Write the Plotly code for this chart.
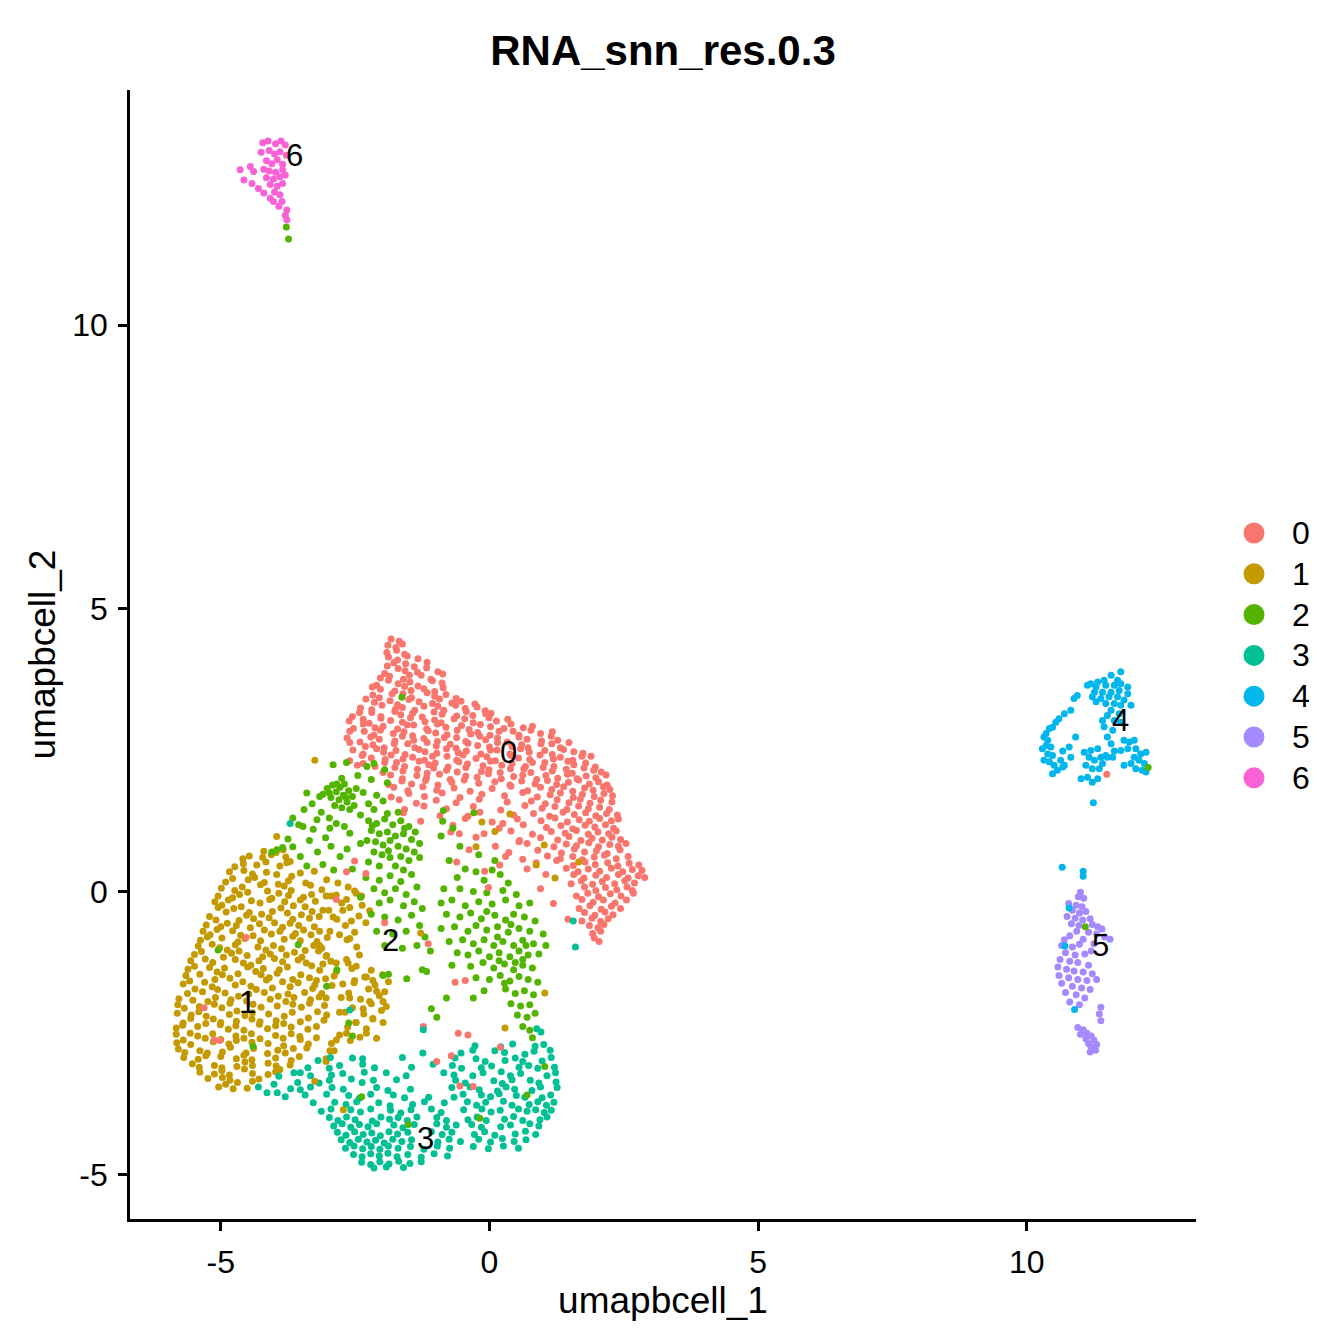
import plotly.graph_objects as go

# ---------------- data ----------------
cluster_names = ["0", "1", "2", "3", "4", "5", "6"]
cluster_colors = ["#F8766D", "#C49A00", "#53B400", "#00C094", "#00B6EB", "#A58AFF", "#FB61D7"]

c0_points = [
(-1.83,4.46),(-1.68,4.42),
(-1.89,4.35),(-1.74,4.31),(-1.62,4.37),
(-1.91,4.22),(-1.73,4.26),(-1.58,4.19),
(-1.88,4.14),(-1.71,4.09),(-1.53,4.16),(-1.33,4.11),
(-1.90,3.98),(-1.78,4.04),(-1.56,4.02),(-1.40,3.97),(-1.16,4.05),
(-1.95,3.85),(-1.70,3.94),(-1.57,3.90),(-1.34,3.87),(-1.17,3.95),(-0.96,3.88),
(-2.03,3.77),(-1.86,3.80),(-1.60,3.75),(-1.49,3.82),(-1.27,3.82),(-1.09,3.75),(-0.87,3.84),
(-2.10,3.64),(-1.88,3.73),(-1.70,3.67),(-1.48,3.70),(-1.33,3.63),(-1.06,3.72),(-0.88,3.68),
(-2.18,3.61),(-2.03,3.57),(-1.76,3.54),(-1.58,3.62),(-1.46,3.55),(-1.22,3.58),(-1.02,3.53),(-0.86,3.60),
(-2.17,3.47),(-2.05,3.42),(-1.81,3.49),(-1.61,3.49),(-1.45,3.42),(-1.16,3.51),(-1.02,3.45),(-0.81,3.48),(-0.62,3.41),
(-2.30,3.40),(-2.14,3.34),(-1.85,3.37),(-1.71,3.30),(-1.50,3.39),(-1.31,3.35),(-1.06,3.32),(-0.93,3.40),(-0.70,3.33),(-0.53,3.36),(-0.27,3.31),
(-2.40,3.24),(-2.19,3.21),(-2.00,3.29),(-1.75,3.22),(-1.62,3.25),(-1.39,3.20),(-1.22,3.27),(-0.96,3.27),(-0.85,3.20),(-0.63,3.29),(-0.45,3.23),(-0.23,3.26),(-0.08,3.19),
(-2.55,3.09),(-2.42,3.16),(-2.19,3.16),(-2.02,3.09),(-1.76,3.18),(-1.65,3.12),(-1.43,3.15),(-1.25,3.08),(-1.03,3.17),(-0.88,3.13),(-0.61,3.10),(-0.43,3.18),(-0.31,3.11),(-0.07,3.14),(0.03,3.15),
(-2.61,3.01),(-2.35,3.04),(-2.24,2.97),(-2.02,3.06),(-1.84,3.02),(-1.62,2.99),(-1.47,3.07),(-1.20,3.00),(-1.02,3.03),(-0.90,2.98),(-0.66,3.05),(-0.46,3.05),(-0.30,2.98),(-0.01,3.07),(0.13,3.01),(0.34,3.04),
(-2.53,2.88),(-2.35,2.96),(-2.13,2.89),(-1.98,2.92),(-1.71,2.87),(-1.53,2.94),(-1.41,2.94),(-1.17,2.87),(-0.97,2.96),(-0.81,2.90),(-0.52,2.93),(-0.38,2.86),(-0.17,2.95),(0.02,2.91),(0.27,2.88),(0.40,2.96),(0.63,2.89),(0.80,2.92),
(-2.60,2.83),(-2.33,2.83),(-2.15,2.76),(-2.03,2.85),(-1.79,2.79),(-1.59,2.82),(-1.43,2.75),(-1.14,2.84),(-1.00,2.80),(-0.79,2.77),(-0.60,2.85),(-0.35,2.78),(-0.22,2.81),(0.01,2.76),(0.18,2.83),(0.44,2.83),(0.55,2.76),(0.77,2.85),(0.95,2.79),(1.17,2.82),
(-2.65,2.71),(-2.41,2.64),(-2.21,2.73),(-2.05,2.69),(-1.76,2.66),(-1.62,2.74),(-1.41,2.67),(-1.22,2.70),(-0.97,2.65),(-0.84,2.72),(-0.61,2.72),(-0.44,2.65),(-0.18,2.74),(-0.07,2.68),(0.15,2.71),(0.33,2.64),(0.55,2.73),(0.70,2.69),(0.97,2.66),(1.15,2.74),(1.27,2.67),
(-2.60,2.63),(-2.31,2.56),(-2.17,2.59),(-1.96,2.54),(-1.77,2.61),(-1.52,2.61),(-1.39,2.54),(-1.16,2.63),(-0.99,2.57),(-0.73,2.60),(-0.62,2.53),(-0.40,2.62),(-0.22,2.58),(0.00,2.55),(0.15,2.63),(0.42,2.56),(0.60,2.59),(0.72,2.54),(0.96,2.61),(1.16,2.61),(1.32,2.54),(1.48,2.63),
(-2.54,2.50),(-2.35,2.43),(-2.10,2.52),(-1.97,2.46),(-1.74,2.49),(-1.57,2.42),(-1.31,2.51),(-1.20,2.47),(-0.98,2.44),(-0.80,2.52),(-0.58,2.45),(-0.43,2.48),(-0.16,2.43),(0.02,2.50),(0.14,2.50),(0.38,2.43),(0.58,2.52),(0.74,2.46),(1.03,2.49),(1.17,2.42),(1.38,2.51),(1.57,2.47),(1.74,2.44),
(-2.60,2.31),(-2.37,2.40),(-2.20,2.36),(-1.94,2.33),(-1.83,2.41),(-1.61,2.34),(-1.43,2.37),(-1.21,2.32),(-1.06,2.39),(-0.79,2.39),(-0.61,2.32),(-0.49,2.41),(-0.25,2.35),(-0.05,2.38),(0.11,2.31),(0.40,2.40),(0.54,2.36),(0.75,2.33),(0.94,2.41),(1.19,2.34),(1.32,2.37),(1.55,2.32),(1.72,2.39),(1.89,2.39),
(-2.46,2.23),(-2.35,2.26),(-2.13,2.21),(-1.95,2.28),(-1.73,2.28),(-1.58,2.21),(-1.31,2.30),(-1.13,2.24),(-1.01,2.27),(-0.77,2.20),(-0.57,2.29),(-0.41,2.25),(-0.12,2.22),(0.02,2.30),(0.23,2.23),(0.42,2.26),(0.67,2.21),(0.80,2.28),(1.03,2.28),(1.20,2.21),(1.46,2.30),(1.57,2.24),(1.79,2.27),(1.97,2.20),
(-1.98,2.10),(-1.76,2.19),(-1.61,2.13),(-1.34,2.16),(-1.16,2.09),(-1.04,2.18),(-0.80,2.14),(-0.60,2.11),(-0.44,2.19),(-0.15,2.12),(-0.01,2.15),(0.20,2.10),(0.39,2.17),(0.64,2.17),(0.77,2.10),(1.00,2.19),(1.17,2.13),(1.43,2.16),(1.54,2.09),(1.76,2.18),(1.94,2.14),(2.08,2.11),
(-1.84,2.06),(-1.62,1.99),(-1.35,2.05),(-1.17,2.01),(-0.93,2.07),(-0.73,1.98),(-0.44,2.04),(-0.23,2.02),(-0.02,2.08),(0.22,1.99),(0.45,2.03),(0.62,2.06),(0.88,1.98),(1.05,2.05),(1.27,2.00),(1.45,2.07),(1.63,1.99),(1.80,2.04),(1.98,2.01),(2.17,2.06),
(-1.88,1.89),(-1.63,1.95),(-1.45,1.90),(-1.19,1.96),(-0.96,1.88),(-0.70,1.93),(-0.47,1.97),(-0.20,1.91),(0.10,1.94),(0.38,1.88),(0.60,1.95),(0.85,1.90),(1.08,1.96),(1.25,1.89),(1.47,1.93),(1.66,1.97),(1.86,1.90),(2.03,1.94),(2.19,1.88),
(-1.78,1.84),(-1.52,1.78),(-1.24,1.85),(-0.98,1.79),(-0.66,1.83),(-0.36,1.77),(0.05,1.82),(0.40,1.86),(0.71,1.78),(0.95,1.84),(1.16,1.80),(1.38,1.85),(1.55,1.77),(1.77,1.83),(1.93,1.79),(2.12,1.85),(2.24,1.80),
(-1.83,1.67),(-1.50,1.73),(-1.21,1.68),(-0.88,1.74),(-0.55,1.66),(-0.14,1.72),(0.28,1.69),(0.62,1.75),(0.89,1.67),(1.13,1.71),(1.32,1.74),(1.56,1.66),(1.73,1.72),(1.95,1.68),(2.13,1.73),(2.29,1.69),
(-1.68,1.62),(-1.36,1.56),(-0.99,1.61),(-0.62,1.57),(-0.19,1.63),(0.33,1.58),(0.78,1.60),(1.04,1.55),(1.26,1.62),(1.48,1.57),(1.69,1.63),(1.87,1.56),(2.07,1.61),(2.28,1.58),
(-1.58,1.45),(-1.22,1.51),(-0.80,1.46),(-0.30,1.50),(0.21,1.44),(0.66,1.52),(0.98,1.47),(1.22,1.50),(1.44,1.45),(1.66,1.51),(1.84,1.46),(2.05,1.49),(2.23,1.45),
(-1.60,1.39),(-0.92,1.34),(-0.18,1.40),(0.45,1.35),(0.82,1.38),(1.12,1.33),(1.37,1.40),(1.58,1.36),(1.79,1.39),(1.98,1.34),(2.18,1.38),(2.38,1.35),
(-1.28,1.24),(-0.45,1.29),(0.05,1.23),(0.52,1.28),(0.96,1.25),(1.22,1.30),(1.45,1.23),(1.67,1.27),(1.86,1.24),(2.05,1.29),(2.27,1.25),(2.40,1.28),
(-0.68,1.17),(0.18,1.12),(0.63,1.18),(1.06,1.13),(1.33,1.16),(1.55,1.11),(1.78,1.17),(1.96,1.14),(2.16,1.18),(2.31,1.12),
(-0.56,1.02),(0.40,1.07),(0.80,1.01),(1.15,1.06),(1.41,1.03),(1.62,1.08),(1.84,1.01),(2.02,1.05),(2.22,1.02),(2.36,1.07),
(-0.25,0.96),(0.56,0.90),(0.95,0.95),(1.27,0.91),(1.48,0.97),(1.70,0.90),(1.91,0.94),(2.10,0.91),(2.28,0.96),(2.44,0.92),
(0.11,0.80),(0.70,0.85),(1.20,0.79),(1.43,0.84),(1.62,0.81),(1.85,0.86),(2.03,0.79),(2.24,0.83),(2.40,0.80),(2.54,0.85),
(-0.38,0.74),(0.36,0.69),(0.90,0.73),(1.34,0.68),(1.58,0.75),(1.77,0.70),(1.99,0.72),(2.19,0.67),(2.43,0.74),
(0.62,0.57),(1.08,0.63),(1.32,0.58),(1.55,0.62),(1.73,0.56),(1.95,0.61),(2.14,0.64),(2.36,0.58),(2.58,0.62),
(-0.61,0.52),(0.19,0.47),(0.87,0.51),(1.56,0.46),(1.78,0.52),(1.97,0.48),(2.20,0.51),(2.39,0.45),(2.60,0.50),(2.78,0.47),
(-0.09,0.36),(1.43,0.41),(1.65,0.35),(1.84,0.40),(2.05,0.36),(2.27,0.41),(2.48,0.35),(2.66,0.39),(2.84,0.37),
(1.57,0.30),(1.76,0.24),(1.98,0.29),(2.18,0.25),(2.40,0.30),(2.58,0.24),(2.77,0.28),(2.89,0.25),
(1.52,0.14),(1.71,0.19),(1.92,0.13),(2.10,0.18),(2.33,0.14),(2.52,0.19),(2.70,0.15),
(1.77,0.08),(1.98,0.02),(2.16,0.07),(2.37,0.03),(2.56,0.08),(2.66,0.02),
(1.62,-0.08),(1.83,-0.03),(2.03,-0.09),(2.25,-0.04),(2.45,-0.08),(2.68,-0.03),
(1.72,-0.14),(1.93,-0.19),(2.12,-0.15),(2.34,-0.20),(2.55,-0.15),
(1.67,-0.30),(1.87,-0.25),(2.08,-0.31),(2.27,-0.26),(2.44,-0.30),
(1.77,-0.37),(1.96,-0.42),(2.15,-0.36),(2.30,-0.41),
(1.72,-0.52),(1.91,-0.47),(2.07,-0.53),(2.21,-0.48),
(1.86,-0.60),(2.02,-0.64),(2.13,-0.58),(1.92,-0.74),(2.07,-0.70),(1.95,-0.82),(2.04,-0.88),
(1.19,-0.21),(1.46,-0.49),
(-0.40,1.33),(0.25,1.20),(-0.10,1.02),(0.55,0.88),(0.30,0.62),(0.70,0.40),(1.05,0.30),(0.95,0.05),(1.25,0.55),(-0.72,1.05),
]

c1_points = [
(-4.20,0.71),(-3.97,0.69),(-3.84,0.74),
(-4.59,0.58),(-4.47,0.63),(-4.22,0.60),(-4.06,0.65),(-3.79,0.61),(-3.71,0.53),
(-4.74,0.44),(-4.58,0.49),(-4.33,0.47),(-4.16,0.52),(-3.90,0.45),(-3.77,0.51),
(-4.84,0.35),(-4.57,0.37),(-4.41,0.31),(-4.15,0.34),(-3.96,0.30),(-3.68,0.27),(-3.52,0.33),(-3.26,0.36),
(-4.91,0.17),(-4.78,0.23),(-4.49,0.21),(-4.37,0.25),(-4.19,0.16),(-3.93,0.13),(-3.74,0.19),(-3.42,0.15),(-3.03,0.21),(-2.82,0.15),
(-4.99,0.06),(-4.74,0.02),(-4.60,0.08),(-4.26,0.12),(-4.13,0.01),(-3.82,0.10),(-3.69,0.02),(-3.33,0.11),(-3.12,0.03),(-2.63,0.08),
(-5.05,-0.08),(-4.78,-0.11),(-4.65,-0.05),(-4.50,-0.01),(-4.05,-0.12),(-3.92,-0.03),(-3.74,-0.07),(-3.46,-0.10),(-3.31,-0.05),(-2.95,-0.08),(-2.48,-0.03),
(-5.11,-0.18),(-4.98,-0.24),(-4.86,-0.15),(-4.43,-0.16),(-4.27,-0.20),(-4.09,-0.14),(-3.81,-0.18),(-3.65,-0.25),(-3.52,-0.15),(-3.24,-0.17),(-2.75,-0.20),(-2.37,-0.24),
(-5.05,-0.28),(-4.90,-0.36),(-4.76,-0.30),(-4.62,-0.27),(-4.47,-0.37),(-4.04,-0.35),(-3.88,-0.29),(-3.76,-0.38),(-3.43,-0.27),(-3.30,-0.35),(-2.99,-0.33),(-2.60,-0.28),(-2.23,-0.34),
(-5.21,-0.44),(-5.09,-0.50),(-4.66,-0.51),(-4.52,-0.42),(-4.39,-0.48),(-4.24,-0.40),(-4.10,-0.46),(-3.66,-0.49),(-3.50,-0.41),(-3.35,-0.47),(-3.17,-0.44),(-2.84,-0.49),(-2.43,-0.43),
(-5.27,-0.59),(-5.00,-0.62),(-4.88,-0.56),(-4.71,-0.60),(-4.45,-0.64),(-4.28,-0.57),(-4.00,-0.55),(-3.85,-0.63),(-3.71,-0.56),(-3.55,-0.60),(-3.26,-0.62),(-2.68,-0.60),(-2.30,-0.55),
(-5.33,-0.70),(-5.20,-0.76),(-5.07,-0.67),(-4.78,-0.69),(-4.63,-0.77),(-4.19,-0.68),(-4.06,-0.75),(-3.90,-0.70),(-3.61,-0.74),(-3.46,-0.68),(-3.32,-0.76),(-3.16,-0.70),(-2.51,-0.72),
(-5.38,-0.86),(-5.25,-0.80),(-4.98,-0.82),(-4.68,-0.89),(-4.55,-0.83),(-4.40,-0.78),(-4.26,-0.87),(-3.82,-0.84),(-3.66,-0.79),(-3.52,-0.87),(-3.21,-0.88),(-3.02,-0.81),(-2.65,-0.85),
(-5.42,-0.96),(-5.16,-0.93),(-5.02,-0.99),(-4.88,-1.03),(-4.73,-0.94),(-4.31,-0.98),(-4.16,-1.03),(-4.02,-0.95),(-3.87,-1.01),(-3.43,-1.04),(-3.27,-0.95),(-3.12,-1.00),(-2.47,-0.98),
(-5.49,-1.11),(-5.36,-1.06),(-4.95,-1.16),(-4.80,-1.09),(-4.66,-1.05),(-4.51,-1.13),(-4.22,-1.15),(-4.08,-1.10),(-3.78,-1.12),(-3.63,-1.07),(-3.49,-1.16),(-3.18,-1.05),(-3.03,-1.13),(-2.42,-1.12),
(-5.56,-1.22),(-5.29,-1.19),(-5.15,-1.25),(-4.73,-1.20),(-4.58,-1.26),(-4.44,-1.30),(-4.29,-1.22),(-4.00,-1.18),(-3.85,-1.24),(-3.56,-1.21),(-3.41,-1.26),(-3.10,-1.28),(-2.95,-1.23),(-2.63,-1.26),
(-5.61,-1.37),(-5.49,-1.32),(-5.21,-1.34),(-5.07,-1.42),(-4.93,-1.35),(-4.50,-1.33),(-4.35,-1.41),(-4.21,-1.36),(-3.91,-1.38),(-3.76,-1.33),(-3.31,-1.31),(-3.16,-1.39),(-2.85,-1.41),(-2.56,-1.36),(-2.20,-1.39),
(-5.65,-1.48),(-5.39,-1.46),(-5.11,-1.55),(-4.97,-1.47),(-4.83,-1.53),(-4.68,-1.45),(-4.25,-1.47),(-4.10,-1.52),(-3.95,-1.44),(-3.66,-1.55),(-3.51,-1.47),(-3.35,-1.52),(-3.05,-1.54),(-2.89,-1.49),(-2.32,-1.51),(-1.99,-1.47),
(-5.70,-1.63),(-5.58,-1.58),(-5.30,-1.60),(-5.16,-1.68),(-4.73,-1.65),(-4.59,-1.59),(-4.44,-1.67),(-4.15,-1.56),(-3.85,-1.59),(-3.71,-1.68),(-3.56,-1.61),(-3.25,-1.65),(-2.93,-1.66),(-2.52,-1.61),(-2.13,-1.65),(-1.88,-1.59),
(-5.62,-1.80),(-5.48,-1.72),(-5.34,-1.77),(-5.06,-1.73),(-4.92,-1.79),(-4.48,-1.81),(-4.34,-1.73),(-4.19,-1.78),(-4.04,-1.70),(-3.75,-1.81),(-3.44,-1.78),(-3.29,-1.71),(-3.12,-1.80),(-2.62,-1.79),(-2.25,-1.72),(-1.95,-1.77),
(-5.78,-1.89),(-5.52,-1.92),(-5.24,-1.94),(-5.10,-1.87),(-4.81,-1.91),(-4.67,-1.85),(-4.52,-1.93),(-4.08,-1.90),(-3.93,-1.85),(-3.79,-1.94),(-3.64,-1.87),(-3.33,-1.91),(-3.17,-1.86),(-2.76,-1.87),(-2.40,-1.90),(-2.05,-1.84),
(-5.80,-2.00),(-5.68,-2.06),(-5.40,-2.03),(-5.12,-1.99),(-4.98,-2.05),(-4.83,-1.97),(-4.40,-1.99),(-4.25,-2.04),(-3.95,-2.02),(-3.66,-1.99),(-3.50,-2.04),(-3.35,-1.97),(-3.07,-2.01),(-2.55,-2.05),(-2.20,-1.98),(-1.92,-2.03),
(-5.81,-2.15),(-5.55,-2.18),(-5.41,-2.12),(-5.27,-2.20),(-4.84,-2.17),(-4.70,-2.11),(-4.55,-2.19),(-4.41,-2.14),(-4.11,-2.16),(-3.82,-2.20),(-3.67,-2.13),(-3.20,-2.12),(-3.03,-2.18),(-2.69,-2.13),(-2.34,-2.16),(-2.01,-2.10),
(-5.70,-2.32),(-5.56,-2.24),(-5.28,-2.33),(-5.14,-2.25),(-5.00,-2.31),(-4.71,-2.29),(-4.42,-2.25),(-4.27,-2.30),(-3.97,-2.28),(-3.83,-2.33),(-3.52,-2.30),(-3.37,-2.23),(-3.08,-2.27),(-2.49,-2.31),(-2.17,-2.24),
(-5.83,-2.41),(-5.71,-2.36),(-5.43,-2.38),(-5.01,-2.35),(-4.86,-2.43),(-4.72,-2.37),(-4.57,-2.45),(-4.28,-2.34),(-4.13,-2.42),(-3.98,-2.37),(-3.69,-2.39),(-3.38,-2.43),(-3.22,-2.38),(-2.64,-2.39),(-2.29,-2.42),
(-5.83,-2.52),(-5.57,-2.50),(-5.43,-2.55),(-5.29,-2.59),(-5.15,-2.51),(-4.72,-2.55),(-4.57,-2.59),(-4.43,-2.51),(-3.98,-2.54),(-3.84,-2.59),(-3.69,-2.51),(-3.53,-2.56),(-3.22,-2.58),(-2.79,-2.53),(-2.41,-2.57),
(-5.82,-2.67),(-5.70,-2.62),(-5.56,-2.70),(-5.14,-2.65),(-5.00,-2.61),(-4.85,-2.69),(-4.71,-2.63),(-4.42,-2.66),(-4.27,-2.60),(-4.12,-2.68),(-3.83,-2.72),(-3.52,-2.61),(-3.37,-2.69),(-2.94,-2.68),(-2.59,-2.63),
(-5.79,-2.78),(-5.67,-2.84),(-5.39,-2.81),(-5.25,-2.85),(-4.97,-2.83),(-4.82,-2.75),(-4.53,-2.85),(-4.39,-2.77),(-3.94,-2.80),(-3.80,-2.85),(-3.65,-2.77),(-3.40,-2.76),(-2.89,-2.81),
(-5.69,-2.93),(-5.42,-2.96),(-5.28,-2.90),(-5.00,-2.91),(-4.71,-2.95),(-4.57,-2.89),(-4.42,-2.97),(-4.13,-2.86),(-3.98,-2.94),(-3.69,-2.98),(-3.54,-2.91),(-3.04,-2.95),
(-5.53,-3.04),(-5.40,-3.10),(-5.12,-3.07),(-4.98,-3.11),(-4.70,-3.09),(-4.55,-3.01),(-4.41,-3.07),(-4.12,-3.03),(-3.97,-3.08),(-3.71,-3.06),
(-5.39,-3.19),(-5.12,-3.22),(-4.98,-3.16),(-4.84,-3.24),(-4.56,-3.13),(-4.41,-3.21),(-4.12,-3.23),(-3.98,-3.18),(-3.90,-3.14),
(-5.24,-3.30),(-4.97,-3.28),(-4.83,-3.33),(-4.69,-3.37),(-4.41,-3.35),(-4.29,-3.31),
(-5.04,-3.45),(-4.91,-3.40),(-4.77,-3.48),(-4.51,-3.47),
# looser cells between cluster 1 and cluster 2
(-3.04,-0.08),(-2.85,-0.06),(-2.66,-0.14),(-2.51,0.01),(-2.38,-0.08),(-3.10,-0.33),(-2.91,-0.45),(-2.73,-0.33),
(-2.57,-0.52),(-2.97,-0.70),(-2.79,-0.76),(-2.60,-0.83),(-3.16,-0.95),(-3.04,-1.14),(-2.85,-1.26),(-2.66,-1.20),
(-2.48,-1.32),(-2.29,-1.51),(-2.17,-1.57),(-2.10,-1.76),(-1.98,-1.94),(-2.23,-1.94),(-2.35,-2.07),(-2.17,-2.25),
(-1.98,-2.31),(-2.48,-2.31),(-2.66,-2.50),(-2.85,-2.62),(-2.97,-2.81),(-3.04,-3.00),(-2.79,-2.13),(-2.60,-1.88),
(-3.04,-1.88),(-3.22,-1.57),(-2.73,-1.63),(-2.51,-1.57),(-2.29,-2.50),(-2.10,-2.59),
]

c2_points = [
(-2.91,2.24),(-2.66,2.28),(-2.28,2.21),(-2.15,2.26),(-1.95,2.15),(-2.75,2.00),(-2.45,2.05),(-2.20,1.98),(-1.90,1.92),
(-3.40,1.74),(-3.16,1.68),(-3.45,1.45),(-3.66,1.30),(-3.55,1.18),(-3.47,1.15),(-3.21,1.27),(-3.75,0.93),(-3.96,0.74),
(-4.05,0.70),(-3.85,0.78),(-3.66,0.79),(-3.28,1.10),(-2.97,1.12),(-2.85,1.20),(-2.70,1.15),(-2.60,1.03),(-3.05,0.95),
(-3.35,0.90),(-3.52,0.62),(-3.20,0.70),(-2.95,0.80),(-2.78,0.62),(-3.40,0.45),(-3.10,0.48),(-2.90,0.38),(-2.65,0.75),
(-2.40,0.85),(-2.55,0.40),(-3.13,1.40),(-2.98,1.30),(-3.30,1.55),
(-3.02,1.82),(-2.92,1.88),(-2.85,1.76),(-2.78,1.84),(-2.70,1.90),(-2.95,1.66),(-2.80,1.62),(-2.72,1.70),(-2.62,1.78),
(-2.55,1.68),(-2.65,1.58),(-2.52,1.52),(-2.88,1.52),(-2.75,1.48),(-2.60,1.45),(-2.48,1.82),(-3.10,1.72),(-2.98,1.74),(-2.84,1.90),(-2.67,1.66),
(-2.35,1.75),(-2.10,1.70),(-2.25,1.55),(-1.98,1.60),(-2.40,1.35),(-2.15,1.45),
(-2.25,1.25),(-2.10,1.20),(-1.95,1.28),(-1.80,1.18),(-1.65,1.25),(-1.50,1.15),(-1.38,1.05),(-2.20,1.08),(-2.05,1.02),
(-1.90,1.05),(-1.75,0.98),(-1.60,1.02),(-1.45,0.92),(-1.30,0.85),(-2.28,0.90),(-2.12,0.88),(-1.98,0.82),(-1.85,0.90),
(-1.70,0.80),(-1.55,0.75),(-1.40,0.70),(-2.15,0.70),(-2.00,0.65),(-1.85,0.60),(-1.65,0.62),(-1.50,0.55),(-1.30,0.60),
(-2.25,0.52),(-2.05,0.45),(-1.75,0.45),(-1.60,0.38),(-1.90,1.38),(-1.70,1.40),(-1.58,1.12),(-1.88,0.72),(-2.18,1.16),
(-2.30,0.25),(-2.05,0.20),(-1.85,0.28),(-1.65,0.18),(-1.45,0.30),(-2.15,0.05),(-1.95,-0.02),(-1.75,0.05),(-1.55,-0.05),
(-1.35,0.08),(-2.40,-0.10),(-2.05,-0.20),(-1.85,-0.15),(-1.60,-0.25),(-1.40,-0.18),(-1.25,-0.30),(-2.20,-0.40),
(-1.95,-0.45),(-1.70,-0.50),(-1.45,-0.42),(-1.30,-0.60),(-2.10,-0.70),(-1.80,-0.75),(-1.55,-0.70),(-1.20,-0.80),
(-1.95,-0.95),(-1.62,-1.00),(-1.35,-0.95),(-1.10,-1.05),
(-1.98,-1.48),(-1.88,-1.46),(-1.54,-1.54),(-1.25,-1.38),(-1.17,-1.41),(-0.80,-1.88),(-1.08,-2.07),(-0.98,-2.22),
(-0.86,1.43),(-0.87,1.24),(-0.29,1.39),(-0.68,1.12),(-0.90,0.98),(-0.55,0.80),(-0.20,0.65),(-0.75,0.55),(0.10,0.55),
(-0.45,0.40),(-0.25,0.35),(0.05,0.38),(0.20,0.30),(-0.60,0.25),(-0.10,0.20),(0.35,0.15),
(-0.85,0.05),(-0.55,0.05),(-0.30,0.00),(-0.05,-0.02),(0.25,0.02),(0.50,-0.05),
(-0.90,-0.20),(-0.70,-0.15),(-0.45,-0.25),(-0.20,-0.18),(0.05,-0.22),(0.30,-0.15),(0.55,-0.25),(0.75,-0.20),
(-0.80,-0.40),(-0.55,-0.45),(-0.35,-0.38),(-0.15,-0.48),(0.10,-0.42),(0.30,-0.50),(0.45,-0.40),(0.65,-0.45),(0.85,-0.52),
(-0.90,-0.65),(-0.65,-0.62),(-0.40,-0.70),(-0.25,-0.60),(-0.05,-0.68),(0.15,-0.62),(0.35,-0.72),(0.55,-0.65),(0.75,-0.70),(1.00,-0.75),
(-0.75,-0.88),(-0.50,-0.85),(-0.30,-0.92),(-0.10,-0.85),(0.08,-0.95),(0.25,-0.88),(0.45,-0.95),(0.62,-0.86),(0.82,-0.92),(1.05,-0.95),
(-0.60,-1.08),(-0.40,-1.12),(-0.20,-1.05),(0.00,-1.15),(0.18,-1.08),(0.38,-1.15),(0.55,-1.05),(0.72,-1.12),(0.92,-1.10),
(-0.70,-1.30),(-0.35,-1.32),(-0.12,-1.25),(0.08,-1.35),(0.28,-1.28),(0.45,-1.38),(0.62,-1.30),(0.80,-1.35),
(-0.25,-1.52),(0.00,-1.55),(0.20,-1.48),(0.38,-1.58),(0.55,-1.50),(0.72,-1.55),(0.90,-1.60),
(-0.10,-1.75),(0.30,-1.72),(0.48,-1.80),(0.65,-1.75),(0.82,-1.82),(-0.30,-1.88),
(0.40,-1.98),(0.58,-2.02),(0.75,-2.00),(0.85,-2.15),(0.52,-2.18),(0.70,-2.22),(0.62,-2.38),(0.75,-2.45),(0.80,-2.58),
(0.15,-0.80),(0.40,-0.58),(0.62,-1.20),(0.28,-1.62),(-0.05,-0.35),(0.68,-0.95),(0.48,-1.25),(0.18,-1.22),
]

c3_points = [
(-4.14,-3.55),(-3.95,-3.55),(-3.80,-3.62),(-4.01,-3.40),(-3.92,-3.26),(-3.64,-3.20),(-3.70,-3.48),(-4.30,-3.45),
(0.88,-2.42),(0.96,-2.48),
(-0.27,-2.72),(0.21,-2.74),(0.43,-2.69),(0.85,-2.73),(1.01,-2.70),
(-0.53,-2.85),(-0.31,-2.80),(0.10,-2.81),(0.28,-2.84),(0.66,-2.87),(0.83,-2.82),(1.13,-2.80),
(-2.36,-2.95),(-1.62,-2.93),(-1.24,-2.85),
(-3.19,-2.98),(-2.96,-2.93),(-2.55,-2.94),
(-0.64,-2.94),(-0.25,-2.95),(-0.08,-3.00),(0.29,-2.98),(0.48,-2.94),(0.62,-3.00),(0.98,-2.99),(1.15,-2.93),
(-3.38,-3.11),(-2.98,-3.12),(-2.79,-3.07),(-2.36,-3.05),(-2.14,-3.11),(-1.45,-3.10),(-1.05,-3.05),
(-0.69,-3.07),(-0.52,-3.12),(-0.15,-3.11),(0.04,-3.08),(0.55,-3.10),(0.73,-3.07),(0.90,-3.12),(1.21,-3.10),
(-3.52,-3.20),(-3.33,-3.25),(-2.94,-3.24),(-2.73,-3.21),(-2.33,-3.19),(-1.92,-3.20),(-1.55,-3.25),(-0.85,-3.20),
(-0.66,-3.24),(-0.31,-3.25),(-0.12,-3.20),(0.22,-3.18),(0.39,-3.25),(0.58,-3.21),(1.07,-3.25),(1.23,-3.20),
(-3.57,-3.37),(-3.17,-3.38),(-2.98,-3.33),(-2.57,-3.31),(-2.37,-3.37),(-2.16,-3.33),(-1.73,-3.32),
(-0.63,-3.33),(-0.45,-3.38),(0.08,-3.34),(0.24,-3.39),(0.42,-3.32),(0.76,-3.33),(0.92,-3.38),(1.24,-3.36),
(-3.52,-3.50),(-3.33,-3.45),(-2.93,-3.46),(-2.72,-3.49),(-2.10,-3.46),(-1.89,-3.51),(-1.47,-3.49),
(-0.70,-3.46),(-0.36,-3.45),(-0.19,-3.50),(0.15,-3.52),(0.31,-3.45),(0.47,-3.49),(0.79,-3.51),(0.95,-3.45),(1.26,-3.46),
(-3.43,-3.59),(-3.03,-3.58),(-2.62,-3.60),(-2.42,-3.65),(-2.21,-3.58),(-1.79,-3.59),(-1.58,-3.64),(-1.13,-3.63),
(-0.66,-3.63),(-0.49,-3.58),(-0.15,-3.59),(0.02,-3.62),(0.18,-3.57),(0.50,-3.60),(0.66,-3.63),(0.98,-3.64),(1.14,-3.59),
(-3.28,-3.73),(-2.88,-3.72),(-2.67,-3.76),(-2.47,-3.71),(-2.06,-3.73),(-1.85,-3.78),(-1.43,-3.76),(-1.21,-3.71),(-0.84,-3.73),
(-0.41,-3.71),(-0.24,-3.77),(-0.07,-3.72),(0.26,-3.70),(0.42,-3.77),(0.74,-3.76),(0.90,-3.71),(1.06,-3.77),(1.20,-3.72),
(-3.13,-3.88),(-2.95,-3.84),(-2.58,-3.85),(-2.40,-3.89),(-2.21,-3.84),(-1.84,-3.86),(-1.65,-3.91),(-1.46,-3.85),(-1.08,-3.84),(-0.90,-3.90),
(-0.48,-3.85),(-0.14,-3.84),(0.03,-3.89),(0.20,-3.86),(0.54,-3.84),(0.70,-3.88),(0.86,-3.85),(1.02,-3.90),(1.15,-3.86),
(-2.98,-3.99),(-2.82,-4.04),(-2.66,-3.98),(-2.50,-4.03),(-2.18,-4.05),(-2.02,-3.98),(-1.86,-4.02),(-1.70,-3.99),(-1.53,-4.04),(-1.35,-3.98),(-0.98,-3.99),(-0.80,-4.04),
(-0.40,-4.03),(-0.23,-3.98),(-0.06,-4.04),(0.28,-4.02),(0.45,-3.97),(0.62,-4.04),(0.94,-4.03),(1.07,-3.98),
(-2.90,-4.14),(-2.74,-4.10),(-2.58,-4.16),(-2.42,-4.11),(-2.26,-4.15),(-2.10,-4.10),(-1.78,-4.12),(-1.61,-4.17),(-1.40,-4.11),(-0.98,-4.10),(-0.80,-4.16),(-0.62,-4.12),
(-0.33,-4.11),(-0.15,-4.16),(0.21,-4.15),(0.39,-4.12),(0.75,-4.10),(0.92,-4.14),
(-2.83,-4.25),(-2.67,-4.30),(-2.51,-4.24),(-2.35,-4.29),(-2.19,-4.26),(-2.03,-4.31),(-1.87,-4.24),(-1.71,-4.28),(-1.52,-4.25),(-1.08,-4.24),(-0.88,-4.29),(-0.70,-4.25),
(-0.28,-4.29),(-0.09,-4.24),(0.10,-4.30),(0.48,-4.28),(0.67,-4.23),(0.86,-4.29),
(-2.76,-4.38),(-2.60,-4.43),(-2.44,-4.37),(-2.28,-4.42),(-2.12,-4.39),(-1.96,-4.44),(-1.80,-4.37),(-1.63,-4.41),(-1.45,-4.38),(-0.96,-4.42),(-0.75,-4.37),(-0.54,-4.41),
(-0.20,-4.37),(0.02,-4.42),(0.24,-4.36),(0.46,-4.41),(0.68,-4.38),
(-2.68,-4.53),(-2.52,-4.49),(-2.36,-4.54),(-2.20,-4.50),(-2.04,-4.55),(-1.88,-4.49),(-1.70,-4.53),(-1.47,-4.50),(-1.22,-4.55),(-0.97,-4.49),(-0.74,-4.53),
(-0.30,-4.50),(-0.02,-4.54),(0.26,-4.49),(0.54,-4.53),
(-2.53,-4.64),(-2.37,-4.68),(-2.21,-4.63),(-2.05,-4.67),(-1.89,-4.62),(-1.72,-4.68),(-1.52,-4.64),(-1.27,-4.69),(-1.03,-4.63),(-0.78,-4.67),
(-2.38,-4.78),(-2.21,-4.82),(-2.04,-4.77),(-1.87,-4.81),(-1.69,-4.76),(-1.48,-4.80),(-1.27,-4.77),
(-2.15,-4.88),(-1.92,-4.86),(-1.60,-4.87),
]

c4_points = [
(11.75,3.88),(11.57,3.82),(11.69,3.73),(11.44,3.73),(11.32,3.70),(11.19,3.67),(11.13,3.64),(11.29,3.61),(11.47,3.64),
(11.63,3.64),(11.75,3.67),(11.88,3.61),(11.26,3.52),(11.41,3.52),(11.57,3.52),(11.72,3.55),(11.88,3.49),(11.22,3.44),
(11.38,3.41),(11.53,3.44),(11.69,3.44),(11.81,3.38),(11.29,3.35),(11.47,3.32),(11.63,3.32),(11.75,3.29),(11.94,3.29),
(11.57,3.20),(11.72,3.14),(11.50,3.11),(11.41,3.02),(11.63,3.02),(11.75,2.99),(11.44,2.91),(11.60,2.85),(11.50,2.73),
(11.57,2.61),(11.63,2.48),(11.60,2.37),(11.50,2.37),
(10.94,3.46),(10.88,3.41),(10.82,3.20),(10.70,3.14),(10.60,3.05),(10.54,2.99),(10.48,2.90),(10.42,2.88),(10.36,2.79),
(10.32,2.73),(10.39,2.67),(10.45,2.55),(10.36,2.58),(10.29,2.52),(10.39,2.43),(10.48,2.40),(10.32,2.32),(10.42,2.29),
(10.51,2.23),(10.63,2.32),(10.70,2.23),(10.57,2.14),(10.48,2.08),(10.67,2.20),(10.82,2.37),(10.79,2.55),(10.67,2.48),(10.91,2.73),
(11.07,2.46),(11.19,2.49),(11.32,2.52),(11.16,2.37),(11.26,2.32),(11.38,2.37),(11.10,2.23),(11.22,2.17),(11.35,2.17),
(11.01,1.99),(11.13,2.02),(11.22,1.93),(11.32,1.99),(11.41,2.26),(11.47,2.40),
(11.81,2.67),(11.91,2.64),(12.00,2.67),(11.75,2.49),(11.88,2.52),(12.03,2.52),(12.12,2.43),(12.22,2.46),(12.00,2.37),
(12.09,2.32),(12.19,2.26),(11.94,2.26),(12.03,2.17),(12.15,2.14),(11.81,2.23),(12.22,2.11),
(11.24,1.57),
]

c5_points = [
(11.00,-0.01),(10.96,-0.09),(11.06,-0.12),(10.78,-0.21),(10.92,-0.24),(11.03,-0.27),(10.85,-0.33),(10.98,-0.38),
(11.10,-0.35),(10.75,-0.44),(10.90,-0.47),(11.04,-0.50),(11.18,-0.48),(10.83,-0.57),(10.97,-0.60),(11.22,-0.58),
(11.32,-0.62),(11.40,-0.66),(10.93,-0.70),(11.15,-0.72),(11.30,-0.75),(11.45,-0.80),(11.55,-0.84),(10.80,-0.78),
(10.70,-0.85),(11.05,-0.84),(11.25,-0.92),(10.65,-0.95),(10.85,-0.98),(10.98,-0.93),(11.20,-1.05),(10.72,-1.08),
(10.90,-1.12),(11.08,-1.10),(10.62,-1.20),(10.80,-1.23),(10.95,-1.25),(11.15,-1.30),(10.58,-1.33),(10.74,-1.37),
(10.88,-1.40),(11.05,-1.42),(11.22,-1.45),(10.60,-1.48),(10.78,-1.52),(10.95,-1.55),(11.12,-1.57),(11.30,-1.55),
(10.65,-1.62),(10.85,-1.67),(11.02,-1.70),(11.18,-1.73),(10.72,-1.78),(10.92,-1.82),(11.08,-1.88),(10.80,-1.95),
(10.98,-2.00),(11.38,-2.04),(11.35,-2.16),(11.38,-2.28),(10.95,-2.40),(11.05,-2.44),(11.12,-2.50),(11.00,-2.52),
(11.20,-2.55),(11.10,-2.60),(11.25,-2.62),(11.15,-2.68),(11.30,-2.70),(11.20,-2.75),(11.28,-2.80),(11.18,-2.83),
]

c6_points = [
(-4.22,13.22),(-4.12,13.25),(-3.98,13.20),(-3.88,13.25),(-3.80,13.18),
(-4.25,13.05),(-4.10,13.08),(-4.00,13.02),(-3.90,13.06),(-3.78,13.00),
(-4.15,12.90),(-4.05,12.85),(-3.95,12.92),(-3.85,12.84),
(-4.64,12.74),(-4.57,12.56),(-4.45,12.80),(-4.39,12.71),(-4.42,12.50),(-4.30,12.41),(-4.20,12.33),(-4.08,12.24),(-4.02,12.18),
(-4.20,12.75),(-4.10,12.72),(-3.98,12.70),(-3.85,12.74),(-4.15,12.60),(-4.02,12.58),(-3.90,12.62),(-3.80,12.65),
(-4.08,12.48),(-3.95,12.45),(-3.85,12.50),(-4.00,12.35),(-3.90,12.30),
(-3.86,12.18),(-3.92,12.10),(-3.77,12.03),(-3.80,11.94),(-3.77,11.86),
]

# cells of one cluster that sit inside another cluster's area
stray_points = {
    0: [(-4.53,-0.81),(-5.31,-2.05),(-5.12,-2.62),(-5.02,-2.63),(-2.85,-0.14),(-2.66,0.35),(-2.51,0.54),(-2.30,0.32),
        (-1.95,-0.55),(-1.14,-0.92),(-0.64,-1.60),(-0.45,-1.57),(-1.23,-2.38),(-0.58,-2.50),(-0.40,-2.53),(-0.71,-2.90),
        (0.20,-2.75),(-0.55,-3.43),(-0.30,-3.44),(-0.98,-3.00),(-0.02,0.07),(11.49,2.07)],
    1: [(-3.25,2.32),(-3.96,0.97),(0.38,1.37),(-0.14,1.23),(0.10,1.06),(-0.25,0.79),(1.02,0.82),(0.87,0.47),(1.66,0.52),
        (1.22,0.24),(0.29,-2.41),(1.03,-1.79),(-1.28,-0.73),(-2.72,-3.85),(-3.25,-3.35)],
    2: [(-1.63,3.43),(-5.05,-1.03),(-3.56,-0.94),(-2.84,-1.38),(-3.03,-1.67),(-4.40,-2.73),(-2.62,-2.32),(-2.55,-2.55),
        (-0.18,-4.00),(0.70,-3.59),(1.03,-3.09),(-1.51,-4.11),(-2.38,-3.62),(12.26,2.19),(11.09,-0.62),(-3.78,11.73),(-3.74,11.52)],
    3: [(-3.71,1.20),(1.56,-0.52),(1.60,-0.98),(-2.60,-2.09),(-1.23,-2.44)],
    4: [(10.66,0.43),(11.05,0.36),(11.05,0.27),(10.79,-0.29),(10.71,-0.96),(10.89,-2.08)],
}

# cluster label positions (cluster medians as drawn in the reference)
label_x = [0.35, -4.50, -1.84, -1.19, 11.75, 11.38, -3.62]
label_y = [2.46, -1.96, -0.87, -4.36, 3.02, -0.95, 13.00]

x_ticks = [-5, 0, 5, 10]
y_ticks = [-5, 0, 5, 10]

# ---------------- figure ----------------
core = [c0_points, c1_points, c2_points, c3_points, c4_points, c5_points, c6_points]
FONT = "Liberation Sans, Arial, Helvetica, sans-serif"
DOT = 7

fig = go.Figure()
for i, pts in enumerate(core):
    fig.add_trace(go.Scatter(
        x=[p[0] for p in pts], y=[p[1] for p in pts], mode="markers",
        name=cluster_names[i],
        marker=dict(color=cluster_colors[i], size=DOT, line=dict(width=0)),
        showlegend=False, hoverinfo="skip"))
for i, pts in stray_points.items():
    fig.add_trace(go.Scatter(
        x=[p[0] for p in pts], y=[p[1] for p in pts], mode="markers",
        marker=dict(color=cluster_colors[i], size=DOT, line=dict(width=0)),
        showlegend=False, hoverinfo="skip"))

for name, lx, ly in zip(cluster_names, label_x, label_y):
    fig.add_annotation(x=lx, y=ly, xref="x", yref="y", text=name, showarrow=False,
                       font=dict(size=31, color="black", family=FONT),
                       xanchor="center", yanchor="middle")

# plot area in the page: x 130..1196, y 90..1219 (page body has an 8 px margin)
PAGE_OFF = 8
L, T, R, B = 130 - PAGE_OFF, 90 - PAGE_OFF, 1196 - PAGE_OFF, 1219 - PAGE_OFF
W_PLOT, H_PLOT = R - L, B - T

leg_x_dot = (1254 - 130) / W_PLOT
leg_x_txt = (1290 - 130) / W_PLOT
leg_top = (1219 - 533) / H_PLOT
leg_step = 40.8 / H_PLOT
shapes = []
for i, (name, col) in enumerate(zip(cluster_names, cluster_colors)):
    yy = leg_top - i * leg_step
    shapes.append(dict(type="circle", xref="paper", yref="paper", xsizemode="pixel", ysizemode="pixel",
                       xanchor=leg_x_dot, yanchor=yy, x0=-10.5, x1=10.5, y0=-10.5, y1=10.5,
                       fillcolor=col, line=dict(width=0)))
    fig.add_annotation(x=leg_x_txt, y=yy, xref="paper", yref="paper", text=name, showarrow=False,
                       font=dict(size=32, color="black", family=FONT), xanchor="left", yanchor="middle")

fig.update_layout(
    width=1344, height=1344,
    margin=dict(l=L, r=1344 - R, t=T, b=1344 - B, pad=0),
    paper_bgcolor="white", plot_bgcolor="white",
    showlegend=False, shapes=shapes,
    font=dict(family=FONT, color="black"),
    title=dict(text="<b>RNA_snn_res.0.3</b>", x=0.5, xref="paper", xanchor="center",
               y=1 - (50 - PAGE_OFF) / 1344, yref="container", yanchor="middle",
               font=dict(size=42, color="black", family=FONT)),
    xaxis=dict(range=[-6.69, 13.15], tickvals=x_ticks, ticktext=[str(v) for v in x_ticks],
               showline=True, linecolor="black", linewidth=2.7, ticks="outside", ticklen=9,
               tickwidth=2.7, tickcolor="black", showgrid=False, zeroline=False,
               tickfont=dict(size=32, color="black", family=FONT), ticklabelstandoff=4,
               title=dict(text="umapbcell_1", font=dict(size=37, color="black", family=FONT), standoff=6)),
    yaxis=dict(range=[-5.78, 14.15], tickvals=y_ticks, ticktext=[str(v) for v in y_ticks],
               showline=True, linecolor="black", linewidth=2.7, ticks="outside", ticklen=9,
               tickwidth=2.7, tickcolor="black", showgrid=False, zeroline=False,
               tickfont=dict(size=32, color="black", family=FONT), ticklabelstandoff=4,
               title=dict(text="umapbcell_2", font=dict(size=37, color="black", family=FONT), standoff=6)),
)

fig.write_html("out.html")
